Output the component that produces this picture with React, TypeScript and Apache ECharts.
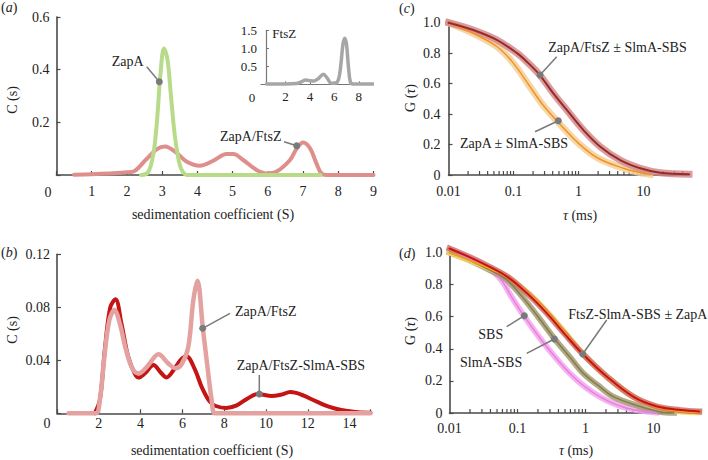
import React, { useEffect, useRef } from 'react';
import * as echarts from 'echarts';

// ---------- Panel (a): sedimentation coefficient distributions ----------
const A_ZAPA_S = [2.4, 2.6, 2.75, 2.85, 2.95, 3.05, 3.15, 3.25, 3.35, 3.45, 3.55, 3.7, 4.5, 5.5, 6.5, 7.5];
const A_ZAPA_C = [0, 0.01, 0.08, 0.2, 0.38, 0.48, 0.44, 0.3, 0.16, 0.07, 0.02, 0, 0, 0, 0, 0];
const A_ZF_S = [0.5, 1.0, 1.5, 2.0, 2.2, 2.55, 2.85, 3.08, 3.4, 3.7, 4.07, 4.45, 4.83, 5.02, 5.3, 5.68, 5.96, 6.25, 6.63, 6.82, 7.0, 7.2, 7.38, 7.52, 7.66, 8.3, 9.0];
const A_ZF_C = [0.001, 0.003, 0.006, 0.01, 0.014, 0.06, 0.098, 0.108, 0.085, 0.05, 0.035, 0.054, 0.08, 0.08, 0.057, 0.019, 0.006, 0.013, 0.057, 0.1, 0.123, 0.101, 0.044, 0.006, 0, 0, 0];
// inset FtsZ
const IN_S = [0.45, 2.0, 2.9, 3.3, 3.65, 4.0, 4.3, 4.7, 5.1, 5.4, 5.75, 6.05, 6.35, 6.55, 6.7, 6.85, 7.0, 7.15, 7.35, 7.6, 9.15];
const IN_C = [0.01, 0.01, 0.02, 0.07, 0.12, 0.1, 0.09, 0.16, 0.28, 0.18, 0.03, 0.03, 0.15, 0.6, 1.1, 1.28, 1.1, 0.5, 0.03, 0.01, 0.01];

// ---------- Panel (b) ----------
const B_ZF_S = [0.55, 1.0, 1.85, 2.05, 2.25, 2.5, 2.75, 3.0, 3.3, 3.6, 3.9, 4.3, 4.86, 5.3, 5.66, 5.96, 6.28, 6.52, 6.72, 6.98, 7.2, 7.4, 7.55, 8.0, 15.0];
const B_ZF_C = [0, 0, 0, 0.01, 0.04, 0.07, 0.078, 0.068, 0.048, 0.034, 0.03, 0.035, 0.0445, 0.038, 0.034, 0.037, 0.05, 0.085, 0.1, 0.064, 0.035, 0.01, 0, 0, 0];
const B_ZFS_S = [1.8, 2.05, 2.3, 2.55, 2.8, 3.08, 3.4, 3.72, 3.9, 4.2, 4.62, 4.95, 5.24, 5.6, 5.9, 6.19, 6.6, 6.92, 7.3, 7.6, 8.1, 8.6, 9.1, 9.6, 10.28, 10.7, 11.17, 11.7, 12.43, 13.0, 13.6, 14.4, 15.0];
const B_ZFS_C = [0, 0.01, 0.05, 0.08, 0.086, 0.068, 0.043, 0.03, 0.027, 0.03, 0.0365, 0.031, 0.027, 0.033, 0.04, 0.043, 0.033, 0.02, 0.009, 0.0055, 0.004, 0.006, 0.011, 0.0146, 0.013, 0.014, 0.016, 0.014, 0.0088, 0.005, 0.0025, 0.0008, 0.0005];

// ---------- Panel (c): FCS autocorrelation ----------
const C_ZF_T = [0.01, 0.024, 0.056, 0.113, 0.16, 0.248, 0.41, 0.66, 1.19, 2.16, 4.37, 8.9, 18, 50];
const C_ZF_G = [1.0, 0.952, 0.886, 0.8, 0.744, 0.661, 0.536, 0.427, 0.295, 0.186, 0.098, 0.044, 0.015, 0.005];
const C_ZA_T = [0.01, 0.024, 0.056, 0.1, 0.2, 0.29, 0.49, 1.0, 2.0, 4.9, 8.9, 12.6];
const C_ZA_G = [1.0, 0.93, 0.842, 0.733, 0.55, 0.455, 0.345, 0.208, 0.11, 0.044, 0.015, 0.005];

// ---------- Panel (d) ----------
const D_RED_T = [0.01, 0.02, 0.039, 0.07, 0.108, 0.18, 0.3, 0.5, 0.91, 2.07, 5.1, 11.3, 25, 47];
const D_RED_G = [1.025, 0.97, 0.91, 0.85, 0.787, 0.7, 0.6, 0.49, 0.368, 0.226, 0.1, 0.04, 0.018, 0.01];
const D_YEL_T = [0.01, 0.02, 0.039, 0.07, 0.108, 0.18, 0.3, 0.5, 0.91, 2.07, 5.1, 11.3, 25, 47];
const D_YEL_G = [1.0, 0.95, 0.9, 0.85, 0.79, 0.71, 0.61, 0.5, 0.37, 0.225, 0.1, 0.035, 0.01, 0.005];
const D_OLV_T = [0.01, 0.02, 0.039, 0.069, 0.117, 0.2, 0.356, 0.6, 0.93, 1.5, 2.6, 6.4, 12.5, 20];
const D_OLV_G = [1.0, 0.95, 0.89, 0.83, 0.725, 0.6, 0.459, 0.344, 0.247, 0.175, 0.1, 0.04, 0.008, 0.002];
const D_SBS_T = [0.01, 0.022, 0.044, 0.06, 0.08, 0.125, 0.268, 0.66, 1.64, 4.07, 11];
const D_SBS_G = [1.0, 0.953, 0.88, 0.82, 0.73, 0.604, 0.413, 0.226, 0.1, 0.03, 0.003];

const LOG_MINOR_TICKS = [0.02, 0.03, 0.04, 0.05, 0.06, 0.07, 0.08, 0.09, 0.1, 0.2, 0.3, 0.4, 0.5, 0.6, 0.7, 0.8, 0.9, 1, 2, 3, 4, 5, 6, 7, 8, 9, 10, 20, 30, 40];
const LOG_LABELS = [0.01, 0.1, 1, 10];
const LOG_LABEL_TEXT = ['0.01', '0.1', '1', '10'];

const FONT = '"Liberation Serif"';
const AXIS_COLOR = '#4a4a4a';
const TEXT_COLOR = '#222';

const zip = (xs: number[], ys: number[]) => xs.map((x, i) => [x, ys[i]]);

function valueAxis(gridIndex: number, min: number, max: number, interval: number, fmt: (v: number) => string, margin: number, size = 14, extra: any = {}) {
  return {
    type: 'value', gridIndex, min, max, interval,
    axisLine: { show: true, onZero: false, lineStyle: { color: AXIS_COLOR, width: 1.6 } },
    axisTick: { show: true, inside: true, length: 4, lineStyle: { color: AXIS_COLOR, width: 1.2 } },
    axisLabel: { formatter: fmt, margin, fontFamily: FONT, fontSize: size, color: TEXT_COLOR },
    splitLine: { show: false },
    ...extra,
  };
}

function logAxis(gridIndex: number, margin: number) {
  return {
    type: 'log', logBase: 10, gridIndex, min: 0.01, max: 50,
    axisLine: { show: true, onZero: false, lineStyle: { color: AXIS_COLOR, width: 1.6 } },
    axisTick: { show: false },
    axisLabel: {
      margin, fontFamily: FONT, fontSize: 14, color: TEXT_COLOR,
      customValues: LOG_LABELS,
      formatter: (v: number) => {
        for (let i = 0; i < LOG_LABELS.length; i++) {
          if (Math.abs(Math.log10(v) - Math.log10(LOG_LABELS[i])) < 1e-6) return LOG_LABEL_TEXT[i];
        }
        return '';
      },
    },
    splitLine: { show: false },
    minorTick: { show: false },
  };
}

function lineSeries(xi: number, data: number[][], color: string, width: number, extra: any = {}) {
  return {
    type: 'line', xAxisIndex: xi, yAxisIndex: xi, data, showSymbol: false, symbol: 'none',
    smooth: 0.35, clip: false, silent: true,
    lineStyle: { color, width, cap: 'round', join: 'round' },
    ...extra,
  };
}

function tickSeries(xi: number) {
  return {
    type: 'custom', xAxisIndex: xi, yAxisIndex: xi, silent: true, z: 1,
    data: LOG_MINOR_TICKS.map((t) => [t, 0]),
    renderItem: (_p: any, api: any) => {
      const p = api.coord([api.value(0), 0]);
      return { type: 'line', shape: { x1: p[0], y1: p[1], x2: p[0], y2: p[1] - 4 }, style: { stroke: AXIS_COLOR, lineWidth: 1.2 } };
    },
  };
}

function txt(text: string, x: number, y: number, opt: any = {}) {
  const size = opt.size || 14;
  return {
    type: 'text', x, y, rotation: opt.rot || 0, silent: true, z: 100,
    style: {
      text, x: 0, y: 0,
      font: `${size}px ${FONT}`,
      fill: TEXT_COLOR,
      textAlign: opt.align || 'left',
      textVerticalAlign: 'middle',
      rich: { i: { font: `italic ${size}px ${FONT}`, fill: TEXT_COLOR } },
    },
  };
}

function callout(x1: number, y1: number, x2: number, y2: number) {
  return [
    { type: 'line', silent: true, z: 90, shape: { x1, y1, x2, y2 }, style: { stroke: '#7a7a7a', lineWidth: 1.5 } },
    { type: 'circle', silent: true, z: 91, shape: { cx: x2, cy: y2, r: 3.5 }, style: { fill: '#7a7a7a' } },
  ];
}

export default function App() {
  const ref = useRef<HTMLDivElement>(null);
  useEffect(() => {
    if (!ref.current) return;
    const chart = echarts.init(ref.current, undefined, { renderer: 'svg' });
    const grids = [
      { left: 56.5, top: 17, width: 317, height: 158 },
      { left: 261, top: 30.3, width: 110, height: 54 },
      { left: 57, top: 254.3, width: 313.5, height: 159 },
      { left: 448.5, top: 22.7, width: 240.5, height: 152.3 },
      { left: 449.5, top: 252.5, width: 251.5, height: 160.5 },
    ].map((g) => ({ ...g, containLabel: false, outerBoundsMode: 'none' }));

    const option: any = {
      animation: false,
      backgroundColor: '#fff',
      grid: grids,
      xAxis: [
        valueAxis(0, 0, 9, 1, (v) => (v === 0 ? '' : String(v)), 9),
        valueAxis(1, 0, 9, 2, (v) => (v === 0 || v === 9 ? '' : String(v)), 6, 13, {
          axisTick: { show: true, inside: true, length: 3, customValues: [2, 4, 6, 8], lineStyle: { color: '#777', width: 1 } },
          axisLine: { show: true, onZero: false, lineStyle: { color: '#777', width: 1.2 } },
        }),
        valueAxis(2, 0, 15, 2, (v) => (v === 0 || v === 15 ? '' : String(v)), 3),
        logAxis(3, 9),
        logAxis(4, 8),
      ],
      yAxis: [
        valueAxis(0, 0, 0.6, 0.2, (v) => (v === 0 ? '' : v.toFixed(1)), 7),
        valueAxis(1, 0, 1.5, 0.5, (v) => (v === 0 ? '' : v.toFixed(1)), 9, 13, {
          offset: -5,
          axisTick: { show: true, inside: true, length: 3, lineStyle: { color: '#777', width: 1 } },
          axisLine: { show: true, onZero: false, lineStyle: { color: '#777', width: 1.2 } },
        }),
        valueAxis(2, 0, 0.12, 0.04, (v) => (v === 0 ? '' : v.toFixed(2)), 7),
        valueAxis(3, 0, 1, 0.2, (v) => (v === 0 ? '0' : v.toFixed(1)), 8),
        valueAxis(4, 0, 1, 0.2, (v) => (v === 0 ? '0' : v.toFixed(1)), 7),
      ],
      series: [
        // (a)
        lineSeries(0, zip(A_ZF_S, A_ZF_C), '#de8f8c', 4),
        lineSeries(0, zip(A_ZAPA_S, A_ZAPA_C), '#b8db8a', 4),
        // inset
        lineSeries(1, zip(IN_S, IN_C), '#a6a6a6', 3.5),
        // (b)
        lineSeries(2, zip(B_ZFS_S, B_ZFS_C), '#c41414', 4),
        lineSeries(2, zip(B_ZF_S, B_ZF_C), '#e3a2a0', 4.5),
        // (c) marker bands
        lineSeries(3, zip(C_ZA_T, C_ZA_G), '#f2d09c', 7, { lineStyle: { color: '#f2d09c', width: 7, opacity: 0.85, cap: 'square' } }),
        lineSeries(3, zip(C_ZF_T, C_ZF_G), '#cf8585', 7, { lineStyle: { color: '#cf8585', width: 7, opacity: 0.8, cap: 'square' } }),
        // (c) fits
        lineSeries(3, zip(C_ZA_T, C_ZA_G), '#f5921e', 1.5),
        lineSeries(3, zip(C_ZF_T, C_ZF_G), '#9a2a2a', 2),
        // (d) marker bands
        lineSeries(4, zip(D_SBS_T, D_SBS_G), '#f4a6ee', 6, { lineStyle: { color: '#f4a6ee', width: 6, opacity: 0.85, cap: 'square' } }),
        lineSeries(4, zip(D_OLV_T, D_OLV_G), '#a39c76', 6, { lineStyle: { color: '#a39c76', width: 6, opacity: 0.85, cap: 'square' } }),
        lineSeries(4, zip(D_YEL_T, D_YEL_G), '#f6d46c', 6, { lineStyle: { color: '#f6d46c', width: 6, opacity: 0.85, cap: 'square' } }),
        lineSeries(4, zip(D_RED_T, D_RED_G), '#c86a6a', 6, { lineStyle: { color: '#c86a6a', width: 6, opacity: 0.8, cap: 'square' } }),
        // (d) fits
        lineSeries(4, zip(D_SBS_T, D_SBS_G), '#e77fe0', 1.5),
        lineSeries(4, zip(D_OLV_T, D_OLV_G), '#877d4b', 1.5),
        lineSeries(4, zip(D_YEL_T, D_YEL_G), '#f5a800', 1.5),
        lineSeries(4, zip(D_RED_T, D_RED_G), '#cc1010', 2),
        // log minor ticks
        tickSeries(3),
        tickSeries(4),
      ],
      graphic: {
        elements: [
          // panel letters
          txt('({i|a})', 1, 7),
          txt('({i|b})', 1, 252),
          txt('({i|c})', 399, 8),
          txt('({i|d})', 399, 253),
          // axis titles
          txt('C (s)', 12, 100, { rot: Math.PI / 2, align: 'center' }),
          txt('C (s)', 12, 330, { rot: Math.PI / 2, align: 'center' }),
          txt('G ({i|τ})', 410, 98, { rot: Math.PI / 2, align: 'center' }),
          txt('G ({i|τ})', 410, 331, { rot: Math.PI / 2, align: 'center' }),
          txt('sedimentation coefficient (S)', 213, 214, { align: 'center' }),
          txt('sedimentation coefficient (S)', 212, 450, { align: 'center' }),
          txt('{i|τ} (ms)', 580, 215, { align: 'center' }),
          txt('{i|τ} (ms)', 576, 450, { align: 'center' }),
          // corner zero labels
          txt('0', 48, 192, { align: 'center' }),
          txt('0', 47, 423, { align: 'center' }),
          txt('0', 252, 97, { align: 'center', size: 13 }),
          // annotations
          txt('ZapA', 111.7, 61.7),
          ...callout(146.7, 66.7, 159.3, 81.7),
          txt('ZapA/FtsZ', 220, 136.7),
          ...callout(284, 141.7, 296.7, 145.7),
          txt('FtsZ', 272.3, 33.3, { size: 13 }),
          txt('ZapA/FtsZ', 235, 311),
          ...callout(230, 313.3, 202.7, 328.3),
          txt('ZapA/FtsZ-SlmA-SBS', 236.7, 365.7),
          ...callout(259.3, 375, 259.3, 394),
          txt('ZapA/FtsZ ± SlmA-SBS', 548.3, 47.5),
          ...callout(556.7, 56.7, 540, 75),
          txt('ZapA ± SlmA-SBS', 460, 143.3),
          ...callout(535, 131.7, 558.3, 120.7),
          txt('FtsZ-SlmA-SBS ± ZapA', 568.3, 314),
          ...callout(606.7, 320, 582.7, 354),
          txt('SBS', 478.3, 334),
          ...callout(506.7, 326.7, 524.3, 315.7),
          txt('SlmA-SBS', 460, 362.5),
          ...callout(526.7, 353.3, 554.3, 339),
        ],
      },
    };
    chart.setOption(option);
    return () => chart.dispose();
  }, []);
  return <div ref={ref} style={{ position: 'fixed', left: 0, top: 0, width: 708, height: 460, background: '#fff' }} />;
}
